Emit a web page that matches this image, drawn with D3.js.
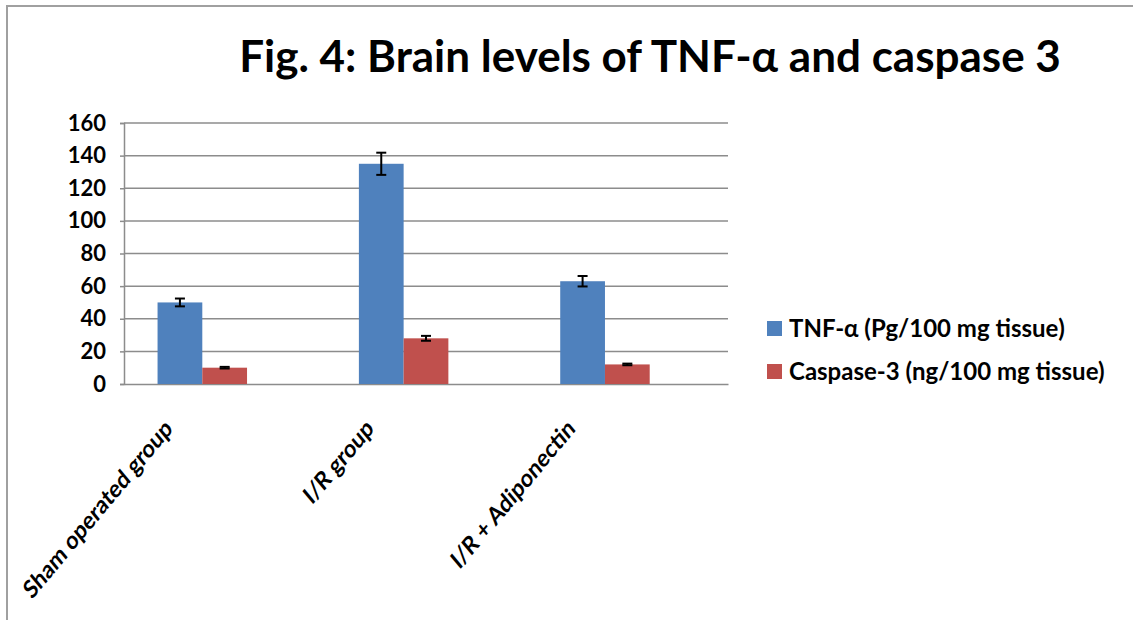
<!DOCTYPE html>
<html>
<head>
<meta charset="utf-8">
<script src="https://cdn.jsdelivr.net/npm/d3@7"></script>
<style>
  body { margin: 0; background: #fff; }
  text { font-family: Lato, "Open Sans", sans-serif; font-weight: bold; fill: #000; }
</style>
</head>
<body>
<div id="chart"></div>
<script>
// data
const categories = ['Sham operated group', 'I/R group', 'I/R + Adiponectin'];
const seriesNames = ['TNF-α (Pg/100 mg tissue)', 'Caspase-3 (ng/100 mg tissue)'];
const tnfValues = [50, 135, 63];
const tnfErrors = [2.4, 6.8, 3.2];
const caspValues = [10, 28, 12];
const caspErrors = [0.5, 1.5, 0.5];
const yTicks = [0, 20, 40, 60, 80, 100, 120, 140, 160];

const colors = ['#4F81BD', '#C0504D'];

const width = 1133;
const height = 620;
const margin = { top: 123, right: 405, bottom: 236, left: 124 };

const svg = d3.select('#chart')
    .append('svg')
    .attr('width', width)
    .attr('height', height);

// frame of the chart area
svg.append('path')
    .attr('d', `M7,${height} V6 H${width}`)
    .attr('fill', 'none')
    .attr('stroke', '#a0a0a0')
    .attr('stroke-width', 2);

svg.append('text')
    .attr('x', 650)
    .attr('y', 72)
    .attr('text-anchor', 'middle')
    .style('font-size', '44px')
    .text('Fig. 4: Brain levels of TNF-α and caspase 3');

const x = d3.scaleBand()
    .domain(categories)
    .range([margin.left, width - margin.right])
    .paddingInner(1 / 3)
    .paddingOuter(1 / 6);

// Excel leaves room for a third (empty) series slot in each cluster
const xSub = d3.scaleBand()
    .domain([0, 1, 2])
    .range([0, x.bandwidth()]);

const y = d3.scaleLinear()
    .domain([0, 160])
    .range([height - margin.bottom, margin.top]);

// gridlines
svg.append('g')
    .selectAll('line')
    .data(yTicks.filter(d => d > 0))
    .enter().append('line')
    .attr('x1', margin.left)
    .attr('x2', width - margin.right)
    .attr('y1', d => y(d))
    .attr('y2', d => y(d))
    .attr('stroke', '#8c8c8c')
    .attr('stroke-width', 1.5);

const yAxis = svg.append('g')
    .attr('transform', `translate(${margin.left}, 0)`)
    .call(d3.axisLeft(y).tickValues(yTicks).tickSize(4).tickPadding(14));
yAxis.select('.domain').attr('stroke', '#8c8c8c').attr('stroke-width', 1.5);
yAxis.selectAll('.tick line').attr('stroke', '#8c8c8c').attr('stroke-width', 1.5);
yAxis.selectAll('text').style('font-size', '22px').attr('font-family', null);

const xAxis = svg.append('g')
    .attr('transform', `translate(0, ${y(0)})`)
    .call(d3.axisBottom(x).tickSize(0).tickSizeOuter(0));
xAxis.select('.domain').attr('stroke', '#8c8c8c').attr('stroke-width', 1.5);
// the source image is slightly stretched vertically, hence the scale
xAxis.selectAll('text')
    .style('font-size', '21px')
    .attr('font-family', null)
    .attr('text-anchor', 'end')
    .attr('y', 0)
    .attr('dy', 0)
    .attr('transform', 'translate(-51, 46) scale(1, 1.2) rotate(-45)');

const series = [
    { name: seriesNames[0], values: tnfValues, errors: tnfErrors },
    { name: seriesNames[1], values: caspValues, errors: caspErrors }
];

series.forEach((s, i) => {
    const g = svg.append('g');
    const rows = categories.map((c, j) => ({ cat: c, v: s.values[j], e: s.errors[j] }));

    g.selectAll('rect')
        .data(rows)
        .enter().append('rect')
        .attr('x', d => x(d.cat) + xSub(i))
        .attr('y', d => y(d.v))
        .attr('width', xSub.bandwidth())
        .attr('height', d => y(0) - y(d.v))
        .attr('fill', colors[i]);

    const cx = d => x(d.cat) + xSub(i) + xSub.bandwidth() / 2;
    const err = g.selectAll('.err')
        .data(rows)
        .enter().append('g')
        .attr('stroke', '#000')
        .attr('stroke-width', 2);
    err.append('line')
        .attr('x1', cx).attr('x2', cx)
        .attr('y1', d => y(d.v + d.e)).attr('y2', d => y(d.v - d.e));
    err.append('line')
        .attr('x1', d => cx(d) - 5).attr('x2', d => cx(d) + 5)
        .attr('y1', d => y(d.v + d.e)).attr('y2', d => y(d.v + d.e));
    err.append('line')
        .attr('x1', d => cx(d) - 5).attr('x2', d => cx(d) + 5)
        .attr('y1', d => y(d.v - d.e)).attr('y2', d => y(d.v - d.e));
});

// legend
const legend = svg.append('g')
    .attr('transform', 'translate(767, 321)');
const item = legend.selectAll('g')
    .data(seriesNames)
    .enter().append('g')
    .attr('transform', (d, i) => `translate(0, ${i * 43})`);
item.append('rect')
    .attr('width', 15)
    .attr('height', 15)
    .attr('fill', (d, i) => colors[i]);
item.append('text')
    .attr('x', 22)
    .attr('y', 8)
    .attr('dy', '0.35em')
    .style('font-size', '24px')
    .text(d => d);
</script>
</body>
</html>
